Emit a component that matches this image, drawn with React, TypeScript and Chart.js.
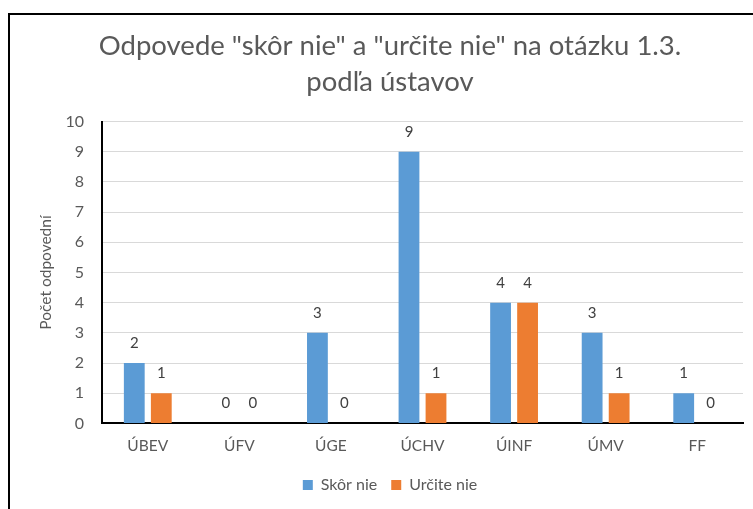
import React, { useEffect, useRef } from "react";
import { Chart, registerables } from "chart.js";

Chart.register(...registerables);

const categories = ["ÚBEV", "ÚFV", "ÚGE", "ÚCHV", "ÚINF", "ÚMV", "FF"];
const skorNie = [2, 0, 3, 9, 4, 3, 1];
const urciteNie = [1, 0, 0, 1, 4, 1, 0];
const yTicks = [0, 1, 2, 3, 4, 5, 6, 7, 8, 9, 10];
const titleLines = ['Odpovede "skôr nie" a "určite nie" na otázku 1.3.', "podľa ústavov"];
const yAxisTitle = "Počet odpovední";
const seriesNames = ["Skôr nie", "Určite nie"];

const FONT = "Lato, 'Open Sans', sans-serif";

const valueLabels = {
  id: "valueLabels",
  afterDatasetsDraw(chart: any) {
    const ctx = chart.ctx;
    ctx.save();
    ctx.font = `15px ${FONT}`;
    ctx.fillStyle = "#404040";
    ctx.textAlign = "center";
    ctx.textBaseline = "middle";
    chart.data.datasets.forEach((ds: any, i: number) => {
      const meta = chart.getDatasetMeta(i);
      meta.data.forEach((el: any, j: number) => {
        ctx.fillText(String(ds.data[j]), el.x, el.y - 20);
      });
    });
    ctx.restore();
  },
};

export default function App() {
  const ref = useRef<HTMLCanvasElement | null>(null);
  useEffect(() => {
    document.body.style.margin = "0";
    document.body.style.overflow = "hidden";
    const chart = new Chart(ref.current as HTMLCanvasElement, {
      type: "bar",
      data: {
        labels: categories,
        datasets: [
          {
            label: seriesNames[0],
            data: skorNie,
            backgroundColor: "#5b9bd5",
            barPercentage: 0.77,
            categoryPercentage: 0.59,
          },
          {
            label: seriesNames[1],
            data: urciteNie,
            backgroundColor: "#ed7d31",
            barPercentage: 0.77,
            categoryPercentage: 0.59,
          },
        ],
      },
      options: {
        animation: false,
        responsive: false,
        maintainAspectRatio: false,
        layout: { padding: { left: 27, right: 25, top: 0, bottom: 12 } },
        plugins: {
          title: {
            display: true,
            text: titleLines,
            color: "#595959",
            font: { family: FONT, size: 27.5, weight: "normal" as any, lineHeight: 1.32 },
            padding: { top: 13, bottom: 21 },
          },
          legend: {
            position: "bottom",
            labels: {
              boxWidth: 10,
              boxHeight: 10,
              color: "#595959",
              font: { family: FONT, size: 16 },
              padding: 14,
            },
          },
          tooltip: { enabled: false },
        },
        scales: {
          x: {
            grid: { display: false },
            border: { display: true, color: "#000", width: 2 },
            ticks: { color: "#595959", font: { family: FONT, size: 15.5 }, padding: 5 },
            afterFit: (scale: any) => {
              scale.height += 3;
            },
          },
          y: {
            min: 0,
            max: 10,
            afterBuildTicks: (scale: any) => {
              scale.ticks = yTicks.map((v) => ({ value: v }));
            },
            afterFit: (scale: any) => {
              scale.width = 65;
            },
            grid: { color: "#d9d9d9", lineWidth: 1, drawTicks: false },
            border: { display: true, color: "#000", width: 2 },
            ticks: { color: "#595959", font: { family: FONT, size: 16 }, padding: 18 },
            title: {
              display: true,
              text: yAxisTitle,
              color: "#595959",
              font: { family: FONT, size: 15.5 },
              padding: { top: 0, bottom: 4 },
            },
          },
        },
      },
      plugins: [valueLabels],
    });
    return () => chart.destroy();
  }, []);
  return (
    <div style={{ position: "fixed", inset: 0, overflow: "hidden", background: "#fff" }}>
      <div
        style={{
          position: "absolute",
          left: 8,
          top: 13,
          width: 758,
          height: 500,
          border: "2px solid #000",
        }}
      >
        <canvas ref={ref} width={758} height={500} style={{ display: "block" }} />
      </div>
    </div>
  );
}
